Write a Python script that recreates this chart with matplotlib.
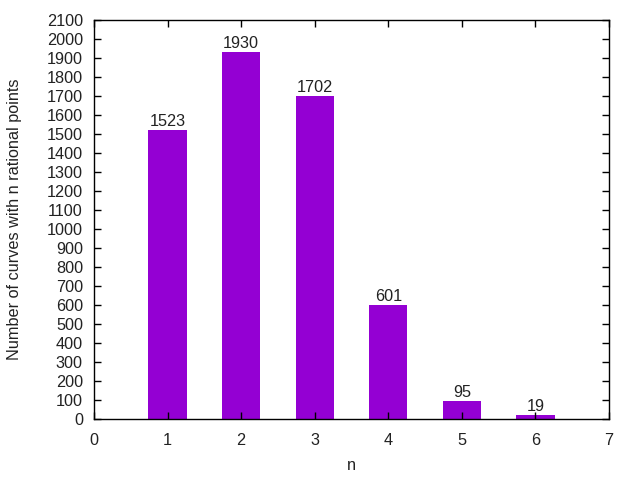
import matplotlib
matplotlib.use("Agg")
import matplotlib.pyplot as plt

# Data
n_values = [1, 2, 3, 4, 5, 6]
counts = [1523, 1930, 1702, 601, 95, 19]

plt.rcParams['font.family'] = ['Liberation Sans', 'DejaVu Sans']
plt.rcParams['font.size'] = 11.7

fig = plt.figure(figsize=(6.4, 4.8), dpi=100)
ax = fig.add_axes([94 / 640, 1 - 419 / 480, 515 / 640, 399 / 480])

ax.bar(n_values, counts, width=0.52, color='#9400d3')
for x, v in zip(n_values, counts):
    ax.text(x, v + 5, str(v), ha='center', va='bottom', color='#222222')

ax.set_xlim(0, 7)
ax.set_ylim(0, 2100)
ax.set_xticks(range(0, 8))
ax.set_yticks(range(0, 2101, 100))
ax.tick_params(direction='in', top=True, right=True, length=5, width=1,
               pad=8, labelcolor='#222222')
ax.tick_params(axis='x', pad=10)
for s in ax.spines.values():
    s.set_linewidth(1)

ax.set_xlabel('n', labelpad=7, color='#222222')
ax.set_ylabel('Number of curves with n rational points', labelpad=18, color='#222222')

fig.savefig('out.png', dpi=100)
